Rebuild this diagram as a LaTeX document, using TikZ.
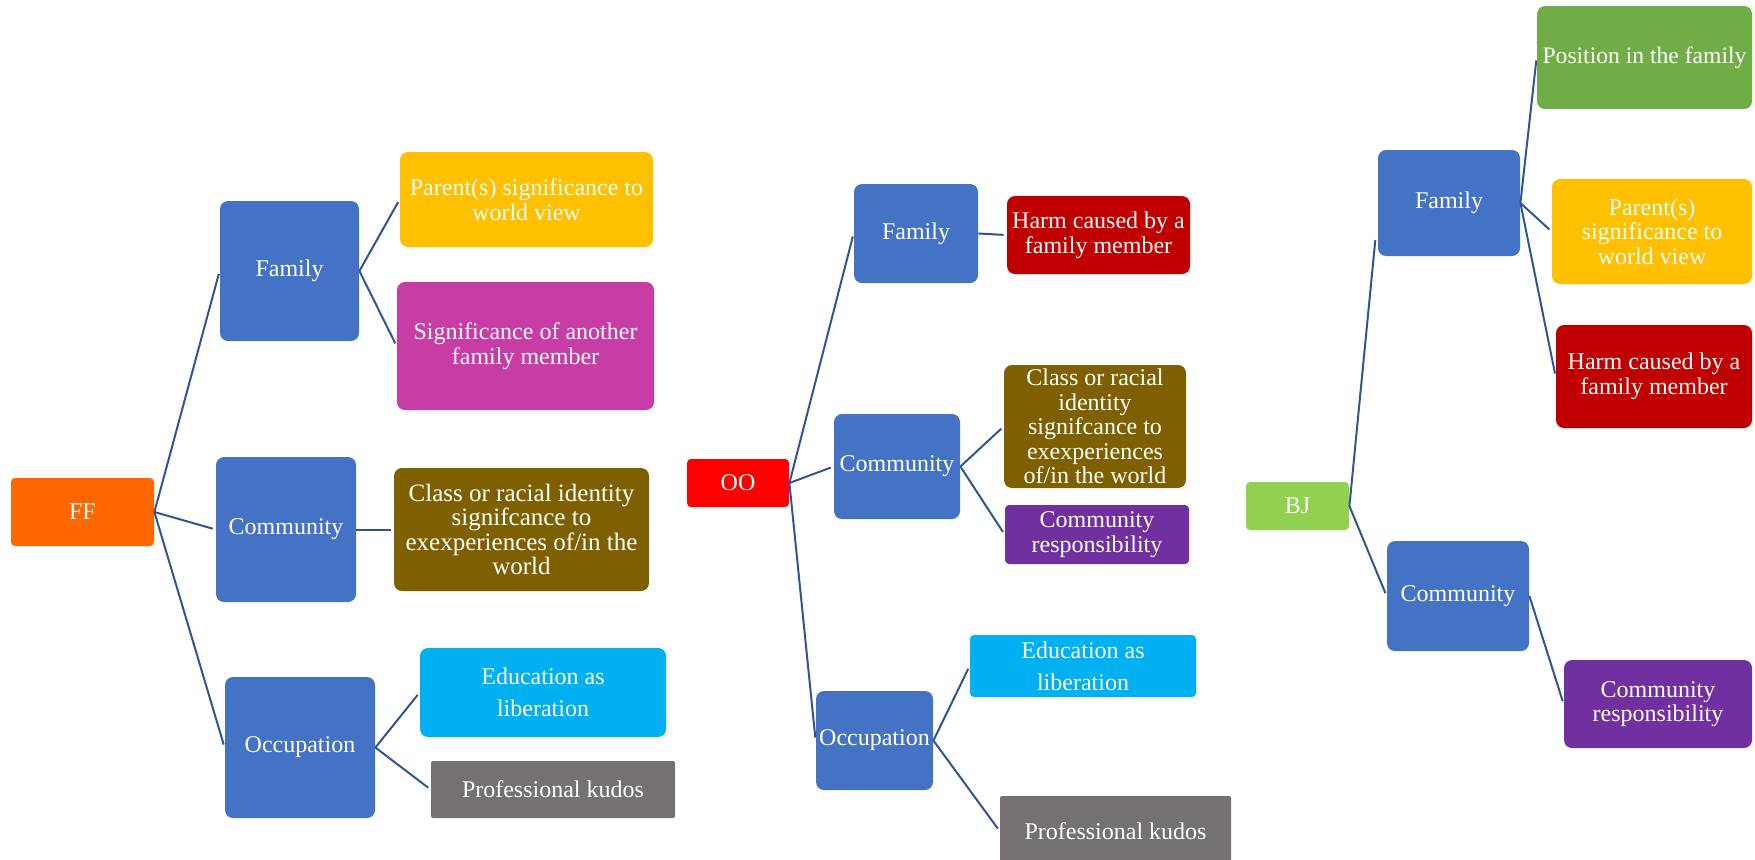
\documentclass[tikz,border=0pt]{standalone}
\usepackage{fontspec}
\setmainfont{Liberation Serif}
\usepackage{xcolor}
\usepackage{tikz}

\definecolor{topicblue}{HTML}{4472C4}
\definecolor{linkblue}{HTML}{2F5597}
\definecolor{ffcol}{HTML}{FF6600}
\definecolor{oocol}{HTML}{FF0000}
\definecolor{bjcol}{HTML}{92D050}
\definecolor{goldcol}{HTML}{FFC000}
\definecolor{pinkcol}{HTML}{C83CA5}
\definecolor{olivecol}{HTML}{7F6000}
\definecolor{cyancol}{HTML}{00B0F0}
\definecolor{greycol}{HTML}{757171}
\definecolor{harmcol}{HTML}{C00000}
\definecolor{purplecol}{HTML}{7030A0}
\definecolor{greencol}{HTML}{70AD47}

\begin{document}
\begin{tikzpicture}[
		x=0.5pt, y=-0.5pt,
		box/.style={rectangle, rounded corners=4pt, text=white, align=center, inner sep=1pt, font=\fontsize{12}{12.3}\selectfont},
		root/.style={box, rounded corners=2pt},
		topic/.style={box, fill=topicblue},
		link/.style={draw=linkblue, line width=1pt, shorten >=1.5pt},
		]
		\useasboundingbox (0,0) rectangle (1755,859);

		%FF
		\node[root, fill=ffcol, minimum width=71.5pt, minimum height=34pt]	(ff)	at (82.5,512)	{FF};
		\node[topic, minimum width=69.5pt, minimum height=70pt]	(ff_fam)	at (289.5,271)	{Family};
		\node[topic, minimum width=70pt, minimum height=72.5pt]	(ff_com)	at (286,529.5)	{Community};
		\node[topic, minimum width=75pt, minimum height=70.5pt]	(ff_occ)	at (300,747.5)	{Occupation};
		\draw[link]	(ff.east)	--	(ff_fam.west);
		\draw[link]	(ff.east)	--	(ff_com.west);
		\draw[link]	(ff.east)	--	(ff_occ.west);

		\node[box, fill=goldcol, minimum width=126.5pt, minimum height=47.5pt]	(ff_fam_1)	at (526.5,199.5)	{Parent(s) significance to\\world view};
		\node[box, fill=pinkcol, minimum width=128.5pt, minimum height=64pt]	(ff_fam_2)	at (525.5,346)	{Significance of another\\family member};
		\draw[link]	(ff_fam.east)	--	(ff_fam_1.west);
		\draw[link]	(ff_fam.east)	--	(ff_fam_2.west);

		\node[box, fill=olivecol, minimum width=127.5pt, minimum height=61.5pt, font=\fontsize{12.5}{12.3}\selectfont]	(ff_com_1)	at (521.5,529.5)	{Class or racial identity\\signifcance to\\exexperiences of/in the\\world};
		\draw[link]	(ff_com.east)	--	(ff_com_1.west);

		\node[box, fill=cyancol, minimum width=123pt, minimum height=44.5pt, font=\fontsize{12}{16}\selectfont]	(ff_occ_1)	at (543,692.5)	{Education as\\liberation};
		\node[box, fill=greycol, rounded corners=1pt, minimum width=122pt, minimum height=28.5pt]	(ff_occ_2)	at (553,789.5)	{Professional kudos};
		\draw[link]	(ff_occ.east)	--	(ff_occ_1.west);
		\draw[link]	(ff_occ.east)	--	(ff_occ_2.west);

		%OO
		\node[root, fill=oocol, minimum width=51pt, minimum height=24pt]	(oo)	at (738,483)	{OO};
		\node[topic, minimum width=62pt, minimum height=49.5pt]	(oo_fam)	at (916,233.5)	{Family};
		\node[topic, minimum width=63pt, minimum height=52.5pt]	(oo_com)	at (897,466.5)	{Community};
		\node[topic, minimum width=58.5pt, minimum height=49.5pt]	(oo_occ)	at (874.5,740.5)	{Occupation};
		\draw[link]	(oo.east)	--	(oo_fam.west);
		\draw[link]	(oo.east)	--	(oo_com.west);
		\draw[link]	(oo.east)	--	(oo_occ.west);

		\node[box, fill=harmcol, minimum width=91.5pt, minimum height=39pt]	(oo_fam_1)	at (1098.5,235)	{Harm caused by a\\family member};
		\draw[link]	(oo_fam.east)	--	(oo_fam_1.west);

		\node[box, fill=olivecol, minimum width=91pt, minimum height=61.5pt]	(oo_com_1)	at (1095,426.5)	{Class or racial\\identity\\signifcance to\\exexperiences\\of/in the world};
		\node[box, fill=purplecol, rounded corners=2pt, minimum width=92pt, minimum height=29.5pt]	(oo_com_2)	at (1097,534.5)	{Community\\responsibility};
		\draw[link]	(oo_com.east)	--	(oo_com_1.west);
		\draw[link]	(oo_com.east)	--	(oo_com_2.west);

		\node[box, fill=cyancol, rounded corners=2pt, minimum width=113pt, minimum height=31pt, font=\fontsize{12}{16}\selectfont]	(oo_occ_1)	at (1083,666)	{Education as\\liberation};
		\node[box, fill=greycol, rounded corners=1pt, minimum width=115.5pt, minimum height=35pt]	(oo_occ_2)	at (1115.5,831)	{Professional kudos};
		\draw[link]	(oo_occ.east)	--	(oo_occ_1.west);
		\draw[link]	(oo_occ.east)	--	(oo_occ_2.west);

		%BJ
		\node[root, fill=bjcol, minimum width=51.5pt, minimum height=24pt]	(bj)	at (1297.5,506)	{BJ};
		\node[topic, minimum width=71pt, minimum height=53pt]	(bj_fam)	at (1449,203)	{Family};
		\node[topic, minimum width=71pt, minimum height=55pt]	(bj_com)	at (1458,596)	{Community};
		\draw[link]	(bj.east)	--	([xshift=-1pt, yshift=-17pt]bj_fam.west);
		\draw[link]	(bj.east)	--	(bj_com.west);

		\node[box, fill=greencol, minimum width=107.5pt, minimum height=51.5pt, font=\fontsize{11.8}{12.3}\selectfont]	(bj_fam_1)	at (1644.5,57.5)	{Position in the family};
		\node[box, fill=goldcol, minimum width=100pt, minimum height=52.5pt]	(bj_fam_2)	at (1652,231.5)	{Parent(s)\\significance to\\world view};
		\node[box, fill=harmcol, minimum width=98pt, minimum height=51.5pt]	(bj_fam_3)	at (1654,376.5)	{Harm caused by a\\family member};
		\draw[link]	(bj_fam.east)	--	(bj_fam_1.west);
		\draw[link]	(bj_fam.east)	--	(bj_fam_2.west);
		\draw[link]	(bj_fam.east)	--	(bj_fam_3.west);

		\node[box, fill=purplecol, minimum width=94pt, minimum height=44pt]	(bj_com_1)	at (1658,704)	{Community\\responsibility};
		\draw[link]	(bj_com.east)	--	(bj_com_1.west);
	\end{tikzpicture}
\end{document}
